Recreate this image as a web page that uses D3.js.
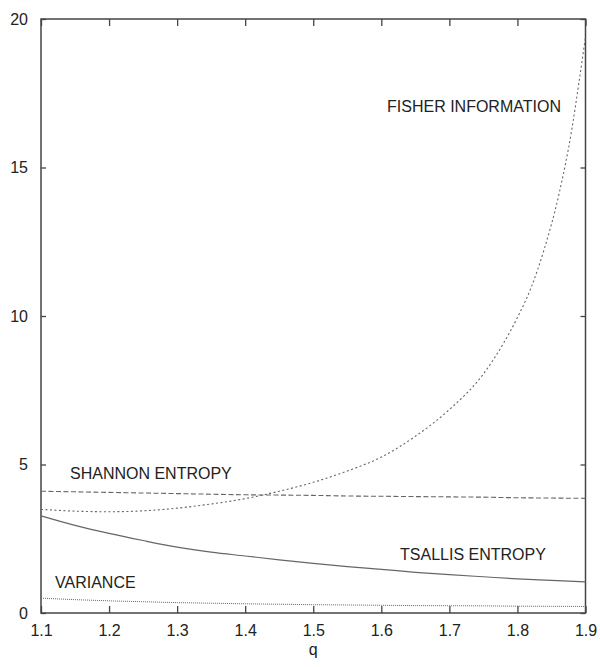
<!DOCTYPE html>
<html>
<head>
<meta charset="utf-8">
<script src="https://cdn.jsdelivr.net/npm/d3@7"></script>
<style>
  body { margin: 0; background: #fff; }
  text { font-family: "Liberation Sans", Arial, sans-serif; fill: #222; }
</style>
</head>
<body>
<div id="div"></div>
<script>
const w = 600;
const h = 667;
const marginLeft = 41;
const marginTop = 19;
const marginRight = 14.5;
const marginBottom = 54;

// data
const qFisher = [1.10,1.15,1.20,1.25,1.30,1.35,1.40,1.45,1.50,1.55,1.60,1.65,1.70,1.75,1.78,1.80,1.82,1.84,1.86,1.88,1.89,1.90];
const fisher  = [3.49,3.43,3.41,3.44,3.53,3.67,3.85,4.10,4.40,4.78,5.25,5.95,6.85,8.05,9.10,9.95,10.95,12.3,14.0,16.3,17.8,19.4];
const qAll = [1.10,1.15,1.20,1.25,1.30,1.35,1.40,1.45,1.50,1.55,1.60,1.65,1.70,1.75,1.80,1.85,1.90];
const shannon  = [4.10,4.08,4.06,4.04,4.02,4.00,3.98,3.97,3.96,3.94,3.93,3.92,3.91,3.90,3.88,3.87,3.86];
const tsallis  = [3.27,2.95,2.68,2.44,2.22,2.05,1.92,1.79,1.67,1.56,1.47,1.37,1.29,1.22,1.15,1.10,1.05];
const variance = [0.50,0.45,0.41,0.38,0.35,0.33,0.31,0.295,0.28,0.27,0.26,0.25,0.245,0.24,0.23,0.225,0.22];
const xTicks = [1.1,1.2,1.3,1.4,1.5,1.6,1.7,1.8,1.9];
const yTicks = [0,5,10,15,20];

var x = d3.scaleLinear()
    .domain([1.1, 1.9])
    .range([marginLeft, w - marginRight]);

var y = d3.scaleLinear()
    .domain([0, 20])
    .range([h - marginBottom, marginTop]);

let svg = d3.select("#div")
    .append("svg")
    .attr("width", w)
    .attr("height", h);

// ticks on all four sides, pointing inward
svg.append("g")
    .attr("transform", "translate(0," + (h - marginBottom) + ")")
    .call(d3.axisBottom(x).tickValues(xTicks).tickSize(-7).tickPadding(12).tickFormat(d3.format(".1f")))
    .call(g => g.select(".domain").remove());
svg.append("g")
    .attr("transform", "translate(0," + marginTop + ")")
    .call(d3.axisTop(x).tickValues(xTicks).tickSize(-7).tickFormat(""))
    .call(g => g.select(".domain").remove());
svg.append("g")
    .attr("transform", "translate(" + marginLeft + ",0)")
    .call(d3.axisLeft(y).tickValues(yTicks).tickSize(-5).tickPadding(13))
    .call(g => g.select(".domain").remove());
svg.append("g")
    .attr("transform", "translate(" + (w - marginRight) + ",0)")
    .call(d3.axisRight(y).tickValues(yTicks).tickSize(-5).tickFormat(""))
    .call(g => g.select(".domain").remove());

svg.selectAll(".tick line").attr("stroke", "#444").attr("stroke-width", 1.3);
svg.selectAll(".tick text").attr("font-size", 16).attr("fill", "#222");

svg.append("rect")
    .attr("x", marginLeft)
    .attr("y", marginTop)
    .attr("width", w - marginLeft - marginRight)
    .attr("height", h - marginTop - marginBottom)
    .attr("fill", "none")
    .attr("stroke", "#444")
    .attr("stroke-width", 1.5);

function makeCurve(qs, vals, dash, width) {
    var line = d3.line()
        .x(function(d, i) { return x(qs[i]); })
        .y(function(d) { return y(d); })
        .curve(d3.curveMonotoneX);
    svg.append("path")
        .attr("d", line(vals))
        .attr("fill", "none")
        .attr("stroke", "#666")
        .attr("stroke-width", width)
        .attr("stroke-dasharray", dash);
}

makeCurve(qFisher, fisher, "2,2.5", 1.1);
makeCurve(qAll, shannon, "5,2.5", 1.1);
makeCurve(qAll, tsallis, null, 1.2);
makeCurve(qAll, variance, "1,1", 1);

function label(txt, q, v) {
    svg.append("text")
        .attr("x", x(q))
        .attr("y", y(v))
        .attr("font-size", 16)
        .text(txt);
}
label("FISHER INFORMATION", 1.6084, 16.88);
label("SHANNON ENTROPY", 1.1426, 4.51);
label("TSALLIS ENTROPY", 1.6275, 1.77);
label("VARIANCE", 1.1206, 0.83);

svg.append("text")
    .attr("text-anchor", "middle")
    .attr("x", (marginLeft + w - marginRight) / 2)
    .attr("y", 655)
    .attr("font-size", 16)
    .text("q");
</script>
</body>
</html>
